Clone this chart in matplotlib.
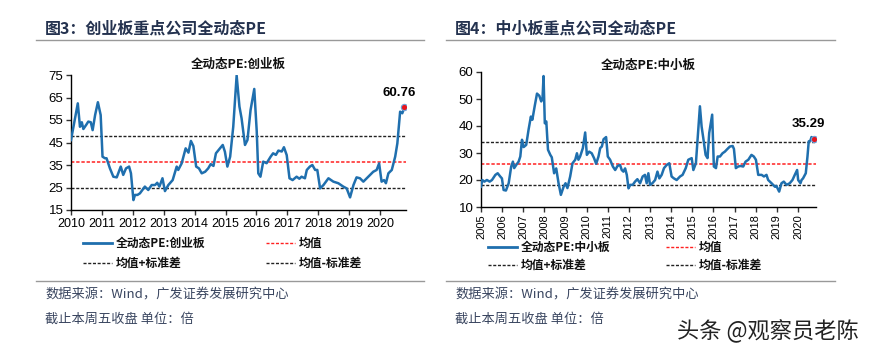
import matplotlib
matplotlib.use("Agg")
import matplotlib.pyplot as plt
from matplotlib.lines import Line2D

# ---------- data (decimal year, PE) ----------
cyb_t = [2010.00, 2010.22, 2010.29, 2010.35, 2010.40, 2010.49, 2010.56, 2010.64, 2010.70, 2010.78,
         2010.87, 2010.96, 2011.02, 2011.10, 2011.15, 2011.26, 2011.37, 2011.48, 2011.61, 2011.69,
         2011.78, 2011.88, 2011.94, 2012.02, 2012.07, 2012.15, 2012.23, 2012.39, 2012.50, 2012.61,
         2012.72, 2012.79, 2012.86, 2012.96, 2013.04, 2013.15, 2013.29, 2013.42, 2013.47, 2013.58,
         2013.71, 2013.80, 2013.88, 2013.96, 2014.05, 2014.14, 2014.23, 2014.34, 2014.44, 2014.52,
         2014.61, 2014.69, 2014.82, 2014.91, 2014.98, 2015.06, 2015.15, 2015.25, 2015.36, 2015.45,
         2015.52, 2015.63, 2015.71, 2015.81, 2015.93, 2016.01, 2016.06, 2016.13, 2016.22, 2016.33,
         2016.46, 2016.54, 2016.63, 2016.71, 2016.82, 2016.89, 2016.98, 2017.07, 2017.17, 2017.30,
         2017.39, 2017.46, 2017.57, 2017.63, 2017.73, 2017.81, 2017.90, 2017.97, 2018.06, 2018.17,
         2018.33, 2018.49, 2018.65, 2018.81, 2018.92, 2019.03, 2019.14, 2019.24, 2019.35, 2019.46,
         2019.62, 2019.78, 2019.89, 2019.97, 2020.05, 2020.13, 2020.19, 2020.27, 2020.38, 2020.49,
         2020.56, 2020.65, 2020.72, 2020.79]
cyb_pe = [46.1, 62.4, 52.0, 54.0, 51.0, 52.8, 54.3, 54.0, 50.5, 57.2,
          62.9, 57.2, 38.7, 38.0, 38.0, 33.5, 29.8, 29.5, 34.3, 30.6,
          33.5, 34.3, 31.3, 19.4, 21.7, 21.7, 22.4, 25.4, 23.9, 26.1,
          26.1, 27.1, 25.4, 29.1, 23.4, 26.1, 28.3, 34.3, 32.8, 35.7,
          42.4, 40.5, 45.7, 43.4, 34.3, 33.5, 31.3, 32.0, 33.5, 35.4,
          34.6, 40.2, 42.4, 43.9, 40.9, 34.3, 38.7, 52.0, 74.8, 61.0,
          55.7, 43.9, 46.1, 59.4, 68.8, 50.0, 31.3, 29.8, 36.5, 35.8,
          38.7, 40.2, 39.5, 41.4, 41.0, 42.9, 39.4, 29.1, 28.3, 29.8,
          28.9, 29.8, 29.1, 32.8, 34.3, 35.0, 32.8, 32.8, 24.6, 26.1,
          29.1, 27.6, 26.9, 25.4, 24.6, 20.6, 26.1, 29.5, 29.1, 27.6,
          29.8, 32.0, 32.8, 35.7, 27.6, 28.3, 26.9, 31.3, 32.8, 38.7,
          44.6, 58.7, 58.0, 60.76]
cyb_mean, cyb_std = 36.5, 11.5

zxb_t = [2005.00, 2005.06, 2005.16, 2005.28, 2005.41, 2005.52, 2005.68, 2005.79, 2005.91, 2005.99,
         2006.07, 2006.18, 2006.31, 2006.43, 2006.51, 2006.57, 2006.67, 2006.78, 2006.86, 2006.94,
         2007.02, 2007.14, 2007.25, 2007.36, 2007.43, 2007.54, 2007.65, 2007.76, 2007.85, 2007.91,
         2007.96, 2008.02, 2008.09, 2008.17, 2008.28, 2008.35, 2008.46, 2008.56, 2008.67, 2008.78,
         2008.91, 2009.00, 2009.09, 2009.22, 2009.33, 2009.46, 2009.54, 2009.61, 2009.69, 2009.82,
         2009.93, 2010.01, 2010.12, 2010.24, 2010.35, 2010.45, 2010.56, 2010.64, 2010.72, 2010.80,
         2010.92, 2011.00, 2011.11, 2011.24, 2011.35, 2011.46, 2011.58, 2011.66, 2011.74, 2011.82,
         2011.90, 2011.98, 2012.06, 2012.18, 2012.29, 2012.40, 2012.53, 2012.65, 2012.76, 2012.84,
         2012.92, 2013.00, 2013.11, 2013.24, 2013.35, 2013.44, 2013.55, 2013.66, 2013.79, 2013.91,
         2014.02, 2014.13, 2014.26, 2014.42, 2014.54, 2014.69, 2014.81, 2014.97, 2015.05, 2015.17,
         2015.28, 2015.36, 2015.44, 2015.52, 2015.63, 2015.72, 2015.80, 2015.94, 2016.02, 2016.12,
         2016.20, 2016.31, 2016.43, 2016.54, 2016.65, 2016.78, 2016.91, 2016.97, 2017.06, 2017.17,
         2017.28, 2017.41, 2017.52, 2017.65, 2017.80, 2017.91, 2018.01, 2018.12, 2018.28, 2018.39,
         2018.51, 2018.59, 2018.75, 2018.91, 2018.98, 2019.11, 2019.22, 2019.33, 2019.46, 2019.61,
         2019.74, 2019.85, 2019.96, 2020.01, 2020.12, 2020.17, 2020.24, 2020.37, 2020.45, 2020.51,
         2020.59, 2020.64, 2020.75]
zxb_pe = [17.5, 20.0, 19.4, 20.0, 19.4, 20.0, 21.9, 22.5, 21.3, 20.6,
          16.3, 16.1, 18.8, 25.0, 26.8, 24.4, 25.6, 26.8, 28.7, 34.9,
          32.2, 33.0, 38.6, 43.5, 42.3, 47.3, 52.0, 51.2, 49.1, 50.0,
          58.5, 41.0, 41.7, 31.2, 29.3, 28.4, 22.5, 24.3, 18.8, 14.5,
          17.5, 18.8, 17.0, 21.3, 26.2, 27.5, 29.9, 27.5, 28.7, 31.8,
          37.6, 29.3, 30.5, 29.9, 28.1, 26.0, 28.7, 31.8, 32.4, 35.1,
          35.9, 28.7, 27.5, 25.0, 23.7, 25.2, 25.6, 23.7, 23.1, 24.3,
          21.9, 16.9, 18.2, 18.2, 19.4, 20.3, 18.8, 21.3, 21.9, 18.8,
          22.5, 18.2, 18.8, 20.0, 23.1, 20.6, 21.9, 24.4, 25.6, 26.2,
          21.3, 20.6, 20.0, 21.3, 21.9, 24.4, 27.5, 28.1, 23.7, 26.2,
          38.6, 47.3, 39.8, 35.5, 29.3, 28.1, 37.4, 44.2, 25.0, 24.4,
          28.7, 28.7, 29.9, 30.5, 31.4, 32.4, 32.6, 31.5, 24.4, 25.0,
          25.2, 25.0, 26.8, 27.5, 29.3, 28.7, 27.5, 21.9, 21.9, 21.3,
          21.9, 20.0, 18.8, 17.5, 17.8, 15.7, 18.8, 19.4, 18.2, 18.8,
          20.0, 21.9, 23.7, 20.0, 18.8, 20.0, 20.6, 22.5, 28.7, 34.3,
          34.6, 35.9, 35.29]
zxb_mean, zxb_std = 26.1, 7.9

cyb_years = list(range(2010, 2021))
zxb_years = list(range(2005, 2021))

# ---------- style ----------
W, H = 869, 357
CJK = ["Noto Sans CJK SC", "DejaVu Sans"]
NUM = ["Liberation Sans", "Noto Sans CJK SC"]
BLUE = "#1f6fae"
NAVY = "#24324f"
SRC = "#3a4660"
DOT = (0, (2.2, 1.2))

plt.rcParams.update({
    "font.family": CJK,
    "axes.linewidth": 1.0,
    "xtick.direction": "out",
    "ytick.direction": "out",
})

fig = plt.figure(figsize=(W / 100, H / 100), dpi=100)
fig.patch.set_facecolor("white")


def fx(px):
    return px / W


def fy(py):
    return 1 - py / H


def add_ax(l, t, r, b):
    return fig.add_axes([fx(l), fy(b), fx(r) - fx(l), (b - t) / H])


def panel(ax, t, pe, mean, std, years, ylim, yticks, xlim, rot, xfs, title, tpad):
    ax.plot(t, pe, color=BLUE, lw=1.8, zorder=3)
    ax.axhline(mean + std, color="#222222", lw=1.0, ls=DOT, zorder=2)
    ax.axhline(mean, color="#ff2020", lw=1.1, ls=DOT, zorder=2)
    ax.axhline(mean - std, color="#222222", lw=1.0, ls=DOT, zorder=2)
    ax.plot(t[-1], pe[-1], "o", ms=4.5, mfc="#e8141c", mec="#6fa0d8", mew=0.8, zorder=4)
    ax.set_xlim(*xlim)
    ax.set_ylim(*ylim)
    ax.set_yticks(yticks)
    ax.set_xticks(years)
    ax.set_xticklabels([str(y) for y in years], rotation=rot, family=NUM, fontsize=xfs)
    ax.set_yticklabels([str(v) for v in yticks], family=NUM, fontsize=9.5)
    ax.tick_params(axis="both", length=3.5, width=1.0, color="#333333", pad=2)
    ax.spines["top"].set_visible(False)
    ax.spines["right"].set_visible(False)
    ax.set_facecolor("white")
    ax.set_title(title, fontsize=9, fontweight="bold", color="#111111", pad=tpad)
    ax.annotate(f"{pe[-1]:.2f}", (t[-1], pe[-1]), xytext=(-4, 6),
                textcoords="offset points", ha="center", va="bottom",
                fontsize=9.5, fontweight="bold", family=NUM)
    return ax


# ---------- left: 创业板 ----------
axl = add_ax(71, 75, 406, 210)
panel(axl, cyb_t, cyb_pe, cyb_mean, cyb_std, cyb_years, (15, 75),
      [15, 25, 35, 45, 55, 65, 75], (2010, 2020.84), 0, 9, "全动态PE:创业板", 5)

# ---------- right: 中小板 ----------
axr = add_ax(481, 72, 815.5, 207)
panel(axr, zxb_t, zxb_pe, zxb_mean, zxb_std, zxb_years, (10, 60),
      [10, 20, 30, 40, 50, 60], (2005, 2020.83), 90, 8, "全动态PE:中小板", -4)
axr.tick_params(axis="x", pad=1.5)


# ---------- headers, legends, footers ----------
def header(x0, x1, text_x, label):
    fig.text(fx(text_x), fy(29), label, fontsize=11.5, fontweight="bold",
             color=NAVY, va="center", ha="left")
    fig.add_artist(Line2D([fx(x0), fx(x1)], [fy(40), fy(40)], color="#999999", lw=1.0))
    fig.add_artist(Line2D([fx(x0), fx(x1)], [fy(281), fy(281)], color="#999999", lw=1.0))
    fig.text(fx(text_x), fy(295), "数据来源：Wind，广发证券发展研究中心",
             fontsize=9.5, color=SRC, va="center", ha="left")
    fig.text(fx(text_x), fy(319), "截止本周五收盘 单位：倍",
             fontsize=9.5, color=SRC, va="center", ha="left")


def legend(x_a, x_b, y1, y2, name):
    items = [(x_a, y1, BLUE, "-", 2.0, name),
             (x_b, y1, "#ff2020", DOT, 1.0, "均值"),
             (x_a, y2, "#222222", DOT, 1.0, "均值+标准差"),
             (x_b, y2, "#222222", DOT, 1.0, "均值-标准差")]
    for x, y, c, ls, lw, lab in items:
        fig.add_artist(Line2D([fx(x), fx(x + 29)], [fy(y), fy(y)], color=c, ls=ls, lw=lw))
        fig.text(fx(x + 33), fy(y), lab, fontsize=8.5, fontweight="bold",
                 color="#111111", va="center", ha="left")


header(36, 424, 45, "图3：创业板重点公司全动态PE")
header(446, 835, 455, "图4：中小板重点公司全动态PE")
legend(83, 266, 243, 263, "全动态PE:创业板")
legend(488, 666, 247, 265, "全动态PE:中小板")

fig.text(fx(677), fy(331), "头条 @观察员老陈", fontsize=16, color="#222222",
         va="center", ha="left")

fig.savefig("out.png", dpi=100, facecolor="white")
